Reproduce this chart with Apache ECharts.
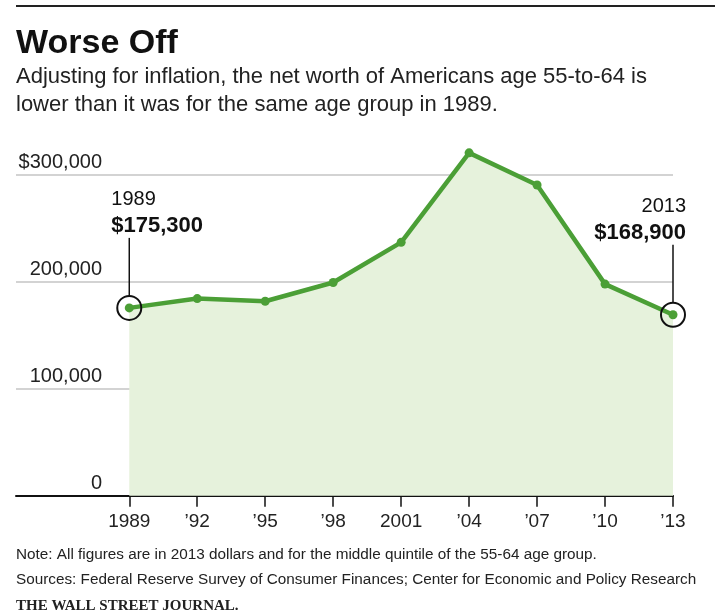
<!DOCTYPE html>
<html>
<head>
<meta charset="utf-8">
<script src="https://cdn.jsdelivr.net/npm/echarts@6/dist/echarts.min.js"></script>
<style>
html,body{margin:0;padding:0;background:#fff;}
#c{width:715px;height:616px;}
</style>
</head>
<body>
<div id="c"></div>
<script>
// ---- data ----
var years = [1989, 1992, 1995, 1998, 2001, 2004, 2007, 2010, 2013];
var tickLabels = ['1989', '\u201992', '\u201995', '\u201998', '2001', '\u201904', '\u201907', '\u201910', '\u201913'];
var netWorth = [175300, 184000, 181500, 199000, 236500, 320000, 290000, 197500, 168900];
var yTicks = [0, 100000, 200000, 300000];
var titleText = 'Worse Off';
var subtitleLines = ['Adjusting for inflation, the net worth of Americans age 55-to-64 is', 'lower than it was for the same age group in 1989.'];
var noteLines = ['Note: All figures are in 2013 dollars and for the middle quintile of the 55-64 age group.', 'Sources: Federal Reserve Survey of Consumer Finances; Center for Economic and Policy Research'];
var credit = 'THE WALL STREET JOURNAL.';

var FONT = '"Liberation Sans", Arial, sans-serif';
var chart = echarts.init(document.getElementById('c'), null, {renderer: 'canvas'});

var seriesData = years.map(function (y, i) { return [y, netWorth[i]]; });
var first = 0, last = years.length - 1;

var option = {
  animation: false,
  backgroundColor: '#fff',
  grid: {left: 16, right: 42, top: 174.3, bottom: 120.3, containLabel: false},
  xAxis: {
    type: 'value', min: 1984, max: 2013,
    axisLine: {show: true, onZero: false, lineStyle: {color: '#111', width: 2}},
    splitLine: {show: false},
    axisTick: {show: true, customValues: years, length: 11, lineStyle: {color: '#111', width: 1.5}},
    axisLabel: {
      customValues: years, margin: 17, fontFamily: FONT, fontSize: 19, color: '#222',
      formatter: function (v) { var i = years.indexOf(v); return i >= 0 ? tickLabels[i] : ''; }
    }
  },
  yAxis: {
    type: 'value', min: 0, max: 300000, interval: 100000,
    axisLine: {show: false}, axisTick: {show: false},
    splitLine: {show: true, lineStyle: {color: '#c4c4c4', width: 1.5}},
    axisLabel: {
      inside: true, margin: 86, align: 'right', verticalAlign: 'bottom',
      padding: [0, 0, 2, 0], fontFamily: FONT, fontSize: 20, color: '#222',
      formatter: function (v) {
        var s = v.toString().replace(/\B(?=(\d{3})+(?!\d))/g, ',');
        return v === yTicks[yTicks.length - 1] ? '$' + s : s;
      }
    }
  },
  series: [{
    type: 'line', data: seriesData, clip: false, z: 3,
    symbol: 'circle', symbolSize: 9, showSymbol: true,
    itemStyle: {color: '#4b9f36'},
    lineStyle: {color: '#4b9f36', width: 4.5},
    areaStyle: {color: '#e6f2dc', opacity: 1},
    markPoint: {
      symbol: 'circle', symbolSize: 24, silent: true,
      itemStyle: {color: 'rgba(0,0,0,0)', borderColor: '#111', borderWidth: 2},
      label: {show: false},
      data: [
        {coord: seriesData[first]},
        {coord: seriesData[last]}
      ]
    }
  }]
};
chart.setOption(option);

function fmtMoney(v) { return '$' + v.toString().replace(/\B(?=(\d{3})+(?!\d))/g, ','); }

var p0 = chart.convertToPixel({gridIndex: 0}, seriesData[first]);
var p1 = chart.convertToPixel({gridIndex: 0}, seriesData[last]);

var g = [
  {type: 'rect', shape: {x: 16, y: 5, width: 699, height: 2}, style: {fill: '#222'}},
  {type: 'text', x: 16, y: 44, style: {text: titleText, font: 'bold 34px ' + FONT, fill: '#111', textVerticalAlign: 'middle'}},
  {type: 'text', x: 16, y: 77, style: {text: subtitleLines[0], font: '22px ' + FONT, fill: '#222', textVerticalAlign: 'middle'}},
  {type: 'text', x: 16, y: 105, style: {text: subtitleLines[1], font: '22px ' + FONT, fill: '#222', textVerticalAlign: 'middle'}},
  {type: 'text', x: 16, y: 555, style: {text: noteLines[0], font: '15.3px ' + FONT, fill: '#222', textVerticalAlign: 'middle'}},
  {type: 'text', x: 16, y: 580, style: {text: noteLines[1], font: '15.3px ' + FONT, fill: '#222', textVerticalAlign: 'middle'}},
  {type: 'text', x: 16, y: 606, style: {text: credit, font: 'bold 15px "Liberation Serif", serif', fill: '#222', textVerticalAlign: 'middle'}},
  // 1989 annotation
  {type: 'line', shape: {x1: p0[0], y1: p0[1] - 70, x2: p0[0], y2: p0[1] - 12}, style: {stroke: '#111', lineWidth: 1.5}},
  {type: 'text', x: p0[0] - 18, y: p0[1] - 108, style: {text: String(years[first]), font: '20px ' + FONT, fill: '#111', textVerticalAlign: 'middle'}},
  {type: 'text', x: p0[0] - 18, y: p0[1] - 82, style: {text: fmtMoney(netWorth[first]), font: 'bold 22px ' + FONT, fill: '#111', textVerticalAlign: 'middle'}},
  // 2013 annotation
  {type: 'line', shape: {x1: p1[0], y1: p1[1] - 70, x2: p1[0], y2: p1[1] - 12}, style: {stroke: '#111', lineWidth: 1.5}},
  {type: 'text', x: p1[0] + 13, y: p1[1] - 108, style: {text: String(years[last]), font: '20px ' + FONT, fill: '#111', textAlign: 'right', textVerticalAlign: 'middle'}},
  {type: 'text', x: p1[0] + 13, y: p1[1] - 82, style: {text: fmtMoney(netWorth[last]), font: 'bold 22px ' + FONT, fill: '#111', textAlign: 'right', textVerticalAlign: 'middle'}}
];
chart.setOption({graphic: g});
</script>
</body>
</html>
